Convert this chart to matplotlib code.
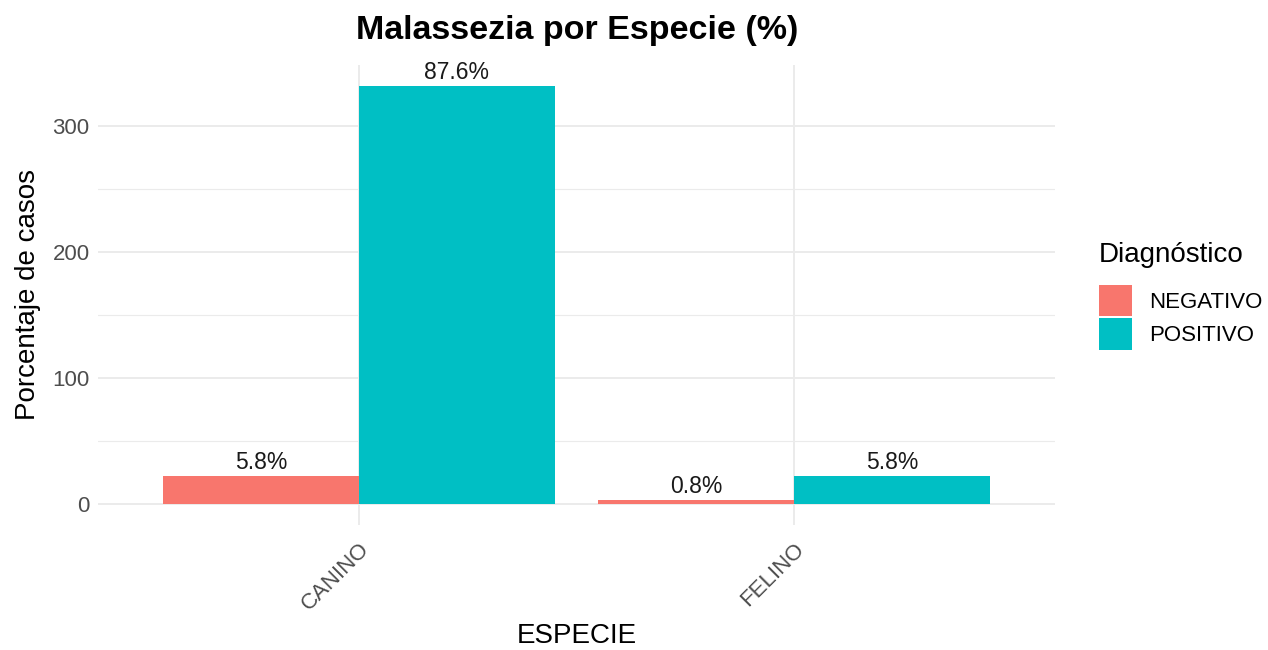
import matplotlib.pyplot as plt
import numpy as np

plt.rcParams['font.family'] = ['Liberation Sans', 'DejaVu Sans']

especies = ["CANINO", "FELINO"]
diagnosticos = ["NEGATIVO", "POSITIVO"]
casos = {
    "NEGATIVO": [22, 3],
    "POSITIVO": [332, 22],
}
etiquetas = {
    "NEGATIVO": ["5.8%", "0.8%"],
    "POSITIVO": ["87.6%", "5.8%"],
}
colores = {"NEGATIVO": "#F8766D", "POSITIVO": "#00BFC4"}

fig = plt.figure(figsize=(12.68, 6.5), dpi=100)
ax = fig.add_axes([98 / 1268, 125 / 650, 957 / 1268, 460 / 650])

x = np.arange(1, len(especies) + 1)
w = 0.45
for i, d in enumerate(diagnosticos):
    pos = x + (i - 0.5) * w
    bars = ax.bar(pos, casos[d], width=w, color=colores[d], label=d, zorder=2)
    for b, lab in zip(bars, etiquetas[d]):
        ax.text(b.get_x() + b.get_width() / 2, b.get_height() + 1.5, lab,
                ha='center', va='bottom', fontsize=16.5, color='#1a1a1a', zorder=3)

ymax = 332
ax.set_ylim(-0.05 * ymax, ymax * 1.05)
ax.set_xlim(0.4, 2.6)
ax.set_yticks([0, 100, 200, 300])
ax.set_yticks([50, 150, 250], minor=True)
ax.set_xticks(x)
ax.set_xticklabels(especies, rotation=45, ha='right', rotation_mode='anchor')
ax.tick_params(axis='both', length=0, labelsize=16, labelcolor='#4D4D4D')
ax.tick_params(axis='y', which='minor', length=0)
ax.tick_params(axis='x', pad=10)
ax.tick_params(axis='y', pad=6)
ax.grid(True, which='major', color='#EBEBEB', linewidth=1.4, zorder=0)
ax.grid(True, which='minor', axis='y', color='#EBEBEB', linewidth=0.8, zorder=0)
ax.set_axisbelow(True)
for s in ax.spines.values():
    s.set_visible(False)

ax.set_xlabel("ESPECIE", fontsize=20, labelpad=6)
ax.set_ylabel("Porcentaje de casos", fontsize=20, labelpad=8)
fig.text(577 / 1268, 1 - 31 / 650, "Malassezia por Especie (%)", fontsize=24.5,
         fontweight='bold', ha='center', va='center')

leg = fig.legend(loc='upper left', bbox_to_anchor=(1099 / 1268, 1 - 242 / 650),
                 title="Diagnóstico", frameon=False, fontsize=16,
                 title_fontsize=20, handlelength=1.49, handleheight=1.8,
                 handletextpad=0.75, labelspacing=0.1, borderpad=0,
                 borderaxespad=0)
leg._legend_box.align = 'left'
leg._legend_box.sep = 12

fig.savefig("out.png", dpi=100)
